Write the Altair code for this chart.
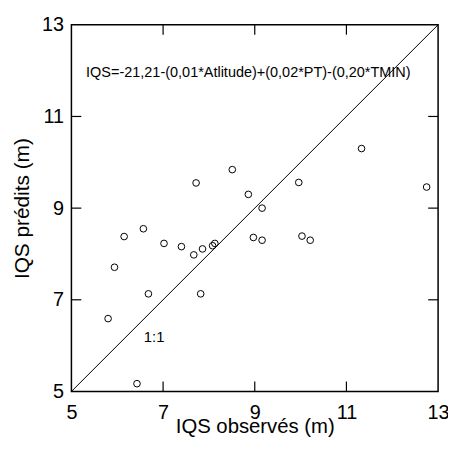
import altair as alt
import pandas as pd

observed = [5.80, 5.94, 6.15, 6.57, 6.68, 6.43, 7.02, 7.40, 7.67, 7.82, 7.86, 8.08,
            8.13, 8.97, 9.16, 9.16, 10.03, 10.21, 7.72, 8.51, 8.86, 9.96, 11.33, 12.75]
predicted = [6.59, 7.71, 8.38, 8.55, 7.13, 5.17, 8.23, 8.16, 7.98, 7.13, 8.11, 8.18,
             8.23, 8.36, 9.00, 8.30, 8.39, 8.30, 9.55, 9.84, 9.30, 9.56, 10.30, 9.46]
tick_values = [5, 7, 9, 11, 13]
inner_ticks = [7, 9, 11]
line_ends = [5, 13]
equation = "IQS=-21,21-(0,01*Atlitude)+(0,02*PT)-(0,20*TMIN)"

FONT = "Liberation Sans"
W = H = 370
LAB = 20
TIT = 20.5

df = pd.DataFrame({"obs": observed, "pred": predicted})
line_df = pd.DataFrame({"obs": line_ends, "pred": line_ends})
ticks_df = pd.DataFrame({"t": inner_ticks})

xs = alt.Scale(domain=[5, 13], nice=False, zero=False)
ys = alt.Scale(domain=[5, 13], nice=False, zero=False)

x_axis = alt.Axis(values=tick_values, title="IQS observés (m)", domain=False, ticks=False,
                  grid=False, labelFontSize=LAB, labelFont=FONT, labelColor="black",
                  labelPadding=11, labelFlush=False, labelOverlap=False,
                  titleFont=FONT, titleFontSize=TIT, titleFontWeight="normal",
                  titleColor="black", titlePadding=-5.5)
y_axis = alt.Axis(values=tick_values, title="IQS prédits (m)", domain=False, ticks=False,
                  grid=False, labelFontSize=LAB, labelFont=FONT, labelColor="black",
                  labelPadding=8, labelFlush=False, labelOverlap=False,
                  titleFont=FONT, titleFontSize=21, titleFontWeight="normal",
                  titleColor="black", titlePadding=9)

points = alt.Chart(df).mark_point(shape="circle", filled=False, color="black",
                                  size=45, strokeWidth=1, opacity=1).encode(
    x=alt.X("obs:Q", scale=xs, axis=x_axis),
    y=alt.Y("pred:Q", scale=ys, axis=y_axis),
)

diag = alt.Chart(line_df).mark_line(color="black", strokeWidth=1, clip=True).encode(
    x=alt.X("obs:Q", scale=xs),
    y=alt.Y("pred:Q", scale=ys),
)

tick_len = 10
bottom_ticks = alt.Chart(ticks_df).mark_rule(color="black", strokeWidth=1.2).encode(
    x=alt.X("t:Q", scale=xs), y=alt.value(H), y2=alt.value(H - tick_len))
top_ticks = alt.Chart(ticks_df).mark_rule(color="black", strokeWidth=1.2).encode(
    x=alt.X("t:Q", scale=xs), y=alt.value(0), y2=alt.value(tick_len))
left_ticks = alt.Chart(ticks_df).mark_rule(color="black", strokeWidth=1.2).encode(
    y=alt.Y("t:Q", scale=ys), x=alt.value(0), x2=alt.value(tick_len))
right_ticks = alt.Chart(ticks_df).mark_rule(color="black", strokeWidth=1.2).encode(
    y=alt.Y("t:Q", scale=ys), x=alt.value(W), x2=alt.value(W - tick_len))

eq_text = alt.Chart(pd.DataFrame({"label": [equation]})).mark_text(
    align="left", baseline="middle", font=FONT, fontSize=14.6, color="black").encode(
    x=alt.datum(5.32, scale=xs), y=alt.datum(11.95, scale=ys), text="label:N")

one_text = alt.Chart(pd.DataFrame({"label": ["1:1"]})).mark_text(
    align="left", baseline="middle", font=FONT, fontSize=15, color="black").encode(
    x=alt.datum(6.58, scale=xs), y=alt.datum(6.19, scale=ys), text="label:N")

chart = alt.layer(diag, points, bottom_ticks, top_ticks, left_ticks, right_ticks,
                  eq_text, one_text).properties(
    width=W, height=H,
    background="white",
    autosize=alt.AutoSizeParams(type="none"),
    padding={"left": 64, "top": 15, "right": 10, "bottom": 44},
).configure_view(stroke="black", strokeWidth=1.5)

chart.save("out.html", embed_options={"renderer": "svg", "actions": False})
